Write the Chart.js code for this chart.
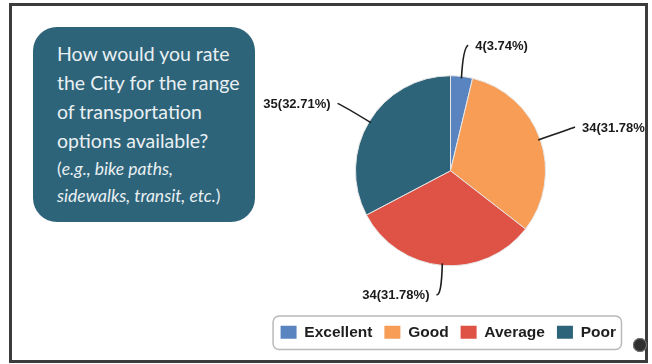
<!DOCTYPE html>
<html>
<head>
<meta charset="utf-8">
<script src="https://cdn.jsdelivr.net/npm/chart.js@4"></script>
<style>
  html, body { margin: 0; padding: 0; background: #fff; }
  body { width: 652px; height: 364px; position: relative; overflow: hidden; }
  #frame {
    position: absolute; left: 9px; top: 3px; width: 633px; height: 354px;
    border: 3px solid #3c3c3c; overflow: hidden; background: #fff;
  }
  #question {
    position: absolute; left: 21px; top: 21px; width: 222px; height: 195px;
    background: #2e6479; border-radius: 24px; box-sizing: border-box;
    padding: 12px 0 0 24px; color: #e9f0f3; font-family: Lato, "Open Sans", sans-serif;
  }
  #question .main { font-size: 19.5px; line-height: 29px; }
  #question .ex { font-size: 17.5px; line-height: 27px; font-style: italic; }
  #question .ex span { font-style: normal; }
  #chart { position: absolute; left: 188px; top: -6px; }
  #dot {
    position: absolute; left: 633px; top: 338px; width: 14px; height: 14px;
    border-radius: 50%; background: #2f2f2f; box-shadow: 0 0 0 1px #777 inset;
  }
</style>
</head>
<body>
<div id="frame">
  <div id="question">
    <div class="main">How would you rate<br>the City for the range<br>of transportation<br>options available?</div>
    <div class="ex"><span>(</span>e.g., bike paths,<br>sidewalks, transit, etc.<span>)</span></div>
  </div>
  <canvas id="chart" width="452" height="364"></canvas>
</div>
<div id="dot"></div>
<script>
// Данные диаграммы
const categories = ['Excellent', 'Good', 'Average', 'Poor'];
const counts = [4, 34, 34, 35];
const sliceColors = ['#5a84c0', '#f79d56', '#df5246', '#2e6479'];

const total = counts.reduce((a, b) => a + b, 0);

// Подписи с выносными линиями
const calloutPlugin = {
  id: 'callouts',
  afterDatasetsDraw(chart) {
    const ctx = chart.ctx;
    const meta = chart.getDatasetMeta(0);
    ctx.save();
    ctx.strokeStyle = '#1e1e1e';
    ctx.lineWidth = 1.6;
    ctx.fillStyle = '#1a1a1a';
    ctx.font = 'bold 13px "Liberation Sans", Arial, sans-serif';
    ctx.textBaseline = 'middle';
    meta.data.forEach((arc, i) => {
      const p = arc.getProps(['x', 'y', 'startAngle', 'endAngle', 'outerRadius'], true);
      const mid = (p.startAngle + p.endAngle) / 2;
      const dx = Math.cos(mid), dy = Math.sin(mid);
      const side = dx >= 0 ? 1 : -1;
      const ext = 30 + 4 * Math.abs(dx);
      const x0 = p.x + dx * (p.outerRadius - 2), y0 = p.y + dy * (p.outerRadius - 2);
      const x1 = p.x + dx * (p.outerRadius + ext), y1 = p.y + dy * (p.outerRadius + ext);
      ctx.beginPath();
      ctx.moveTo(x0, y0);
      ctx.quadraticCurveTo(x1 - side * 2, y1 + 1, x1 + side * 3, y1 - 1);
      ctx.stroke();
      const pct = (counts[i] / total * 100).toFixed(2);
      ctx.textAlign = side > 0 ? 'left' : 'right';
      ctx.fillText(counts[i] + '(' + pct + '%)', x1 + side * 10, y1);
    });
    ctx.restore();
  }
};

// Рамка вокруг легенды
const legendBoxPlugin = {
  id: 'legendBox',
  afterDraw(chart) {
    const boxes = chart.legend.legendHitBoxes;
    if (!boxes || !boxes.length) return;
    const left = Math.min(...boxes.map(b => b.left)) - 8;
    const right = Math.max(...boxes.map(b => b.left + b.width)) + 5;
    const top = Math.min(...boxes.map(b => b.top)) - 9;
    const bottom = Math.max(...boxes.map(b => b.top + b.height)) + 9;
    const ctx = chart.ctx;
    ctx.save();
    ctx.strokeStyle = '#b9b9b9';
    ctx.lineWidth = 1.5;
    ctx.beginPath();
    ctx.roundRect(left + 0.5, top + 0.5, right - left, bottom - top, 6);
    ctx.stroke();
    ctx.restore();
  }
};

new Chart(document.getElementById('chart'), {
  type: 'pie',
  data: {
    labels: categories,
    datasets: [{
      data: counts,
      backgroundColor: sliceColors,
      borderColor: '#e6e6e6',
      borderWidth: 1
    }]
  },
  options: {
    responsive: false,
    animation: false,
    events: [],
    radius: 95,
    layout: { padding: { left: 0, right: 24, top: 29, bottom: 14 } },
    plugins: {
      tooltip: { enabled: false },
      // пустой заголовок слева сдвигает круг вправо, легенда остаётся широкой
      title: {
        display: true,
        position: 'left',
        fullSize: false,
        text: '',
        font: { size: 1, lineHeight: 1 },
        padding: { top: 72, bottom: 0 }
      },
      legend: {
        position: 'bottom',
        align: 'end',
        labels: {
          boxWidth: 16,
          boxHeight: 13,
          padding: 12,
          color: '#1e1e1e',
          font: { family: '"Liberation Sans", Arial, sans-serif', size: 15.5, weight: 'bold' },
          generateLabels(chart) {
            return Chart.overrides.pie.plugins.legend.labels.generateLabels(chart)
              .map(l => Object.assign(l, { lineWidth: 0 }));
          }
        }
      }
    }
  },
  plugins: [calloutPlugin, legendBoxPlugin]
});
</script>
</body>
</html>
